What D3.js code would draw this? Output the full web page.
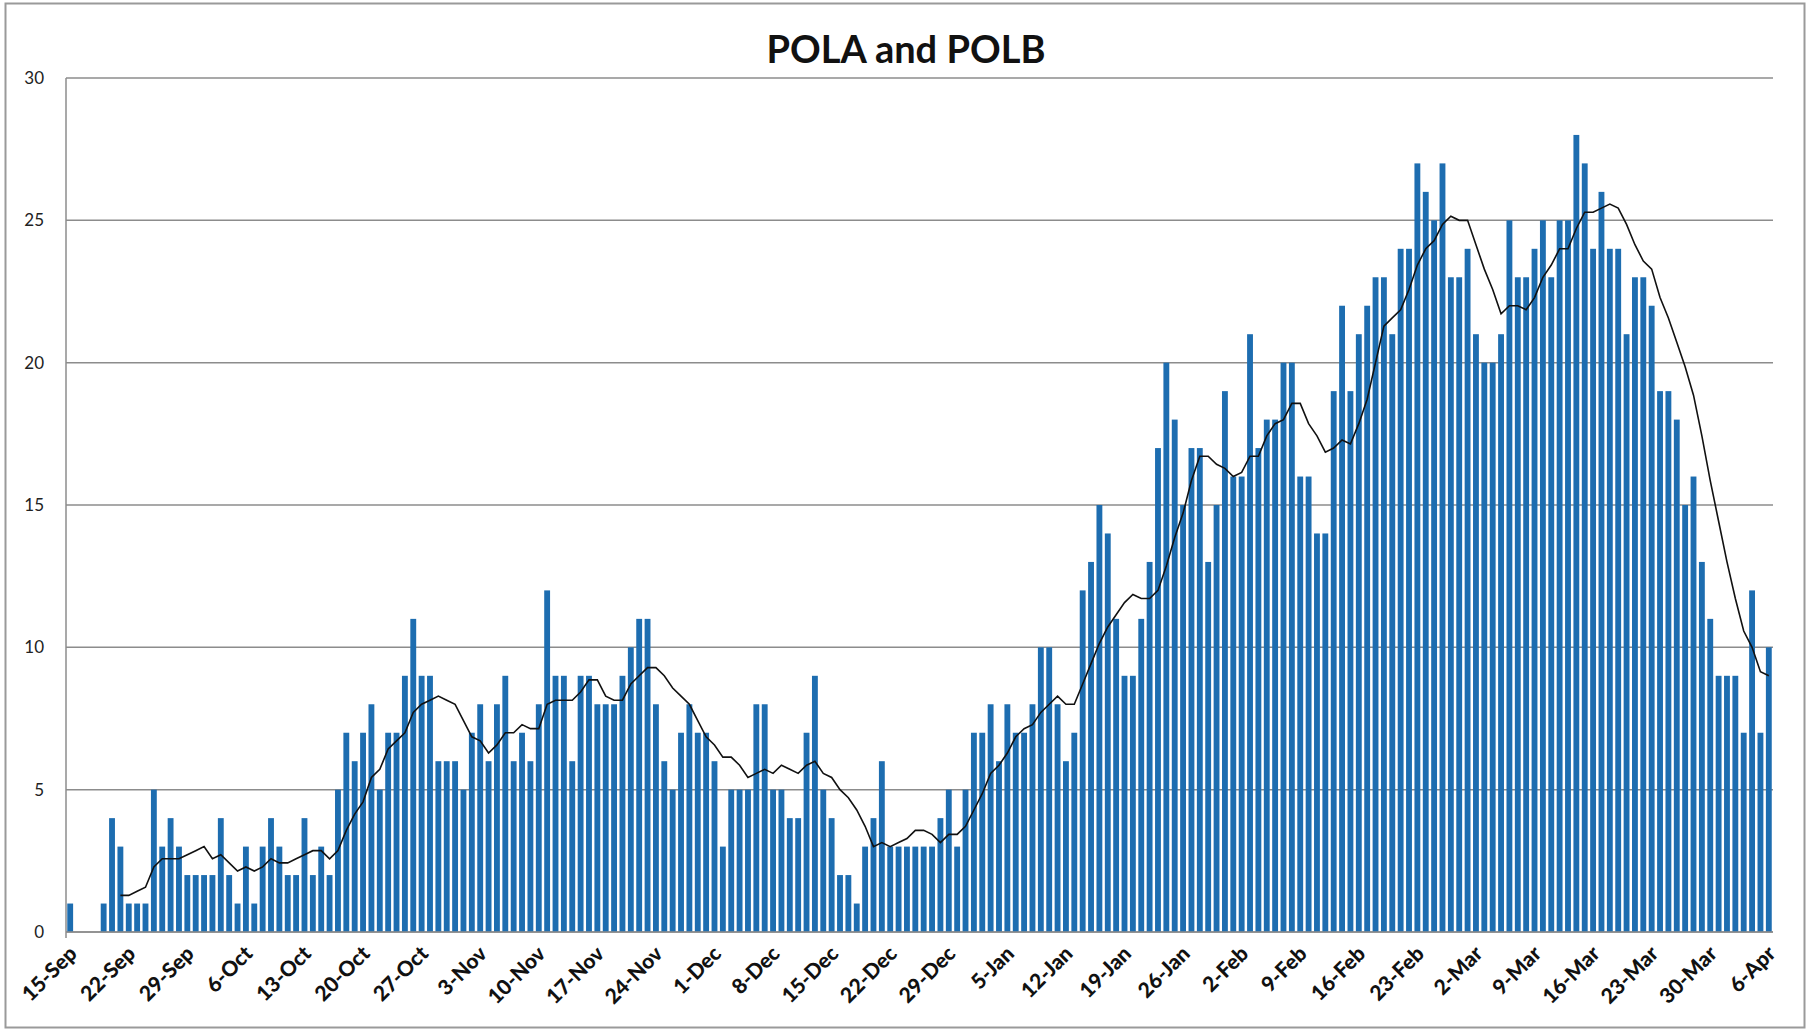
<!DOCTYPE html>
<html>
<head>
<meta charset="utf-8">
<script src="https://cdn.jsdelivr.net/npm/d3@7"></script>
<style>
  body { margin: 0; background: #fff; }
  svg { display: block; font-family: Lato, "Liberation Sans", sans-serif; }
</style>
</head>
<body>
<div id="chart"></div>
<script>
// daily counts, 15-Sep through 6-Apr
const startDate = "2021-09-15";
const endDate = "2022-04-07";
const counts = [
  1,0,0,0,1,4,3,1,1,1,5,3,4,3,2,2,2,2,4,2,1,3,1,3,4,3,
  2,2,4,2,3,2,5,7,6,7,8,5,7,7,9,11,9,9,6,6,6,5,7,8,6,8,9,
  6,7,6,8,12,9,9,6,9,9,8,8,8,9,10,11,11,8,6,5,7,8,7,7,6,3,
  5,5,5,8,8,5,5,4,4,7,9,5,4,2,2,1,3,4,6,3,3,3,3,3,3,4,5,3,5,
  7,7,8,6,8,7,7,8,10,10,8,6,7,12,13,15,14,11,9,9,11,13,
  17,20,18,15,17,17,13,15,19,16,16,21,17,18,18,20,20,16,16,14,14,19,22,19,21,22,23,23,
  21,24,24,27,26,25,27,23,23,24,21,20,20,21,25,23,23,24,25,23,25,25,28,27,24,
  26,24,24,21,23,23,22,19,19,18,15,16,13,11,9,9,9,7,12,7,10
];
const yTicks = [0, 5, 10, 15, 20, 25, 30];
const maPeriod = 7; // moving average trendline period
const chartTitle = "POLA and POLB";

const width = 1808, height = 1031;
const margin = { top: 78, right: 35, bottom: 99, left: 66 };

const parse = d3.timeParse("%Y-%m-%d");
const days = d3.timeDay.range(parse(startDate), parse(endDate));
const fmt = d3.timeFormat("%-d-%b");

const data = days.map((d, i) => ({ i: i, date: d, value: counts[i] }));

// trailing moving average, like the Excel trendline
const ma = data.slice(maPeriod - 1).map(d => ({
  i: d.i,
  value: d3.mean(counts.slice(d.i - maPeriod + 1, d.i + 1))
}));

const svg = d3.select("#chart").append("svg")
  .attr("width", width)
  .attr("height", height);

svg.append("rect")
  .attr("x", 5.5).attr("y", 3.5)
  .attr("width", 1799).attr("height", 1024)
  .attr("fill", "#fff")
  .attr("stroke", "#9a9a9a")
  .attr("stroke-width", 2);

const x = d3.scaleBand()
  .domain(data.map(d => d.i))
  .range([margin.left, width - margin.right])
  .paddingInner(0.3)
  .paddingOuter(0.15);

const y = d3.scaleLinear()
  .domain([0, 30])
  .range([height - margin.bottom, margin.top]);

// gridlines
svg.append("g")
  .selectAll("line")
  .data(yTicks)
  .enter().append("line")
  .attr("x1", margin.left)
  .attr("x2", width - margin.right)
  .attr("y1", d => y(d))
  .attr("y2", d => y(d))
  .attr("stroke", "#8c8c8c")
  .attr("stroke-width", 1.5);

// y axis labels
svg.append("g")
  .selectAll("text")
  .data(yTicks)
  .enter().append("text")
  .attr("x", margin.left - 22)
  .attr("y", d => y(d))
  .attr("dy", "0.35em")
  .attr("text-anchor", "end")
  .attr("font-size", 17)
  .attr("fill", "#222")
  .text(d => d);

// bars
svg.append("g")
  .selectAll("rect")
  .data(data)
  .enter().append("rect")
  .attr("x", d => x(d.i))
  .attr("width", x.bandwidth())
  .attr("y", d => y(d.value))
  .attr("height", d => y(0) - y(d.value))
  .attr("fill", "#1d6db0");

// axis lines
svg.append("line")
  .attr("x1", margin.left).attr("x2", margin.left)
  .attr("y1", y(30)).attr("y2", y(0) + 6)
  .attr("stroke", "#8c8c8c").attr("stroke-width", 1.5);
svg.append("line")
  .attr("x1", margin.left).attr("x2", width - margin.right)
  .attr("y1", y(0)).attr("y2", y(0))
  .attr("stroke", "#8c8c8c").attr("stroke-width", 1.5);

// moving average line
const line = d3.line()
  .x(d => x(d.i) + x.bandwidth() / 2)
  .y(d => y(d.value));

svg.append("path")
  .datum(ma)
  .attr("d", line)
  .attr("fill", "none")
  .attr("stroke", "#111")
  .attr("stroke-width", 1.6);

// x labels every 7 days
const labelData = data.filter(d => d.i % 7 === 0);
svg.append("g")
  .selectAll("text")
  .data(labelData)
  .enter().append("text")
  .attr("transform", d => `translate(${x(d.i) + x.bandwidth() / 2 + 8},${y(0) + 23}) rotate(-45)`)
  .attr("text-anchor", "end")
  .attr("font-size", 21)
  .attr("font-weight", 900)
  .attr("fill", "#111")
  .text(d => fmt(d.date));

// title
svg.append("text")
  .attr("x", 906)
  .attr("y", 63)
  .attr("text-anchor", "middle")
  .attr("font-size", 38)
  .attr("font-weight", "bold")
  .attr("fill", "#111")
  .text(chartTitle);
</script>
</body>
</html>
